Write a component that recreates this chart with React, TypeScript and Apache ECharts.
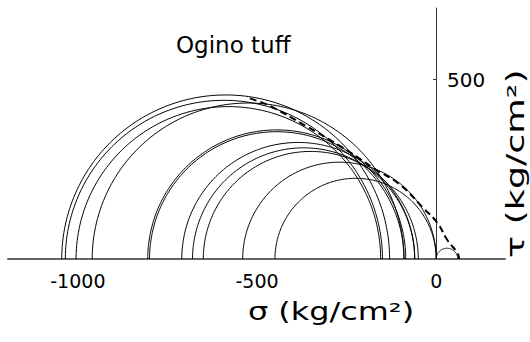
import React, { useEffect, useRef } from "react";
import * as echarts from "echarts";

// Mohr circles: left end (sigma1) and right end (sigma3), kg/cm2
const circleLeft = [-1045, -1035, -1005, -960, -805, -800, -710, -680, -650, -540, -450, 0];
const circleRight = [-130, -150, -155, -90, -85, -90, -60, -60, -50, 0, 0, 60];

// Failure envelope (dashed)
const envSigma = [-520, -500, -464, -360, -288, -221, -176, -101, -36, 3, 31, 59, 64];
const envTau = [448, 441, 427, 369, 327, 285, 254, 207, 142, 101, 53, 17, 0];

const xTicks = [-1000, -500, 0];
const yTicks = [500];

export default function App() {
  const ref = useRef<HTMLDivElement>(null);
  useEffect(() => {
    if (!ref.current) return;
    const chart = echarts.init(ref.current, null, { renderer: "svg" });
    const circles = circleLeft.map((l, i) => [l, circleRight[i]]);
    const env = envSigma.map((s, i) => [s, envTau[i]]);
    const font = "DejaVu Sans";
    chart.setOption({
      animation: false,
      backgroundColor: "#fff",
      grid: [
        { left: 8, right: 25, top: 8, bottom: 83 },
        { left: 435, right: 94, top: 8, bottom: 83 },
      ],
      xAxis: [
        {
          type: "value",
          gridIndex: 0,
          min: -1195,
          max: 192,
          splitLine: { show: false },
          axisTick: { show: false },
          axisLine: { onZero: false, lineStyle: { color: "#666", width: 2 } },
          axisLabel: {
            customValues: xTicks,
            formatter: (v: number) => String(v),
            color: "#000",
            fontFamily: font,
            fontSize: 19,
            margin: 12,
          },
        },
        { type: "value", gridIndex: 1, min: 0, max: 1, show: false },
      ],
      yAxis: [
        { type: "value", gridIndex: 0, min: 0, max: 700, show: false },
        {
          type: "value",
          gridIndex: 1,
          position: "right",
          min: 0,
          max: 700,
          splitLine: { show: false },
          axisLine: { show: true, onZero: false, lineStyle: { color: "#333", width: 1 } },
          axisTick: {
            show: true,
            inside: true,
            length: 3,
            customValues: yTicks,
            lineStyle: { color: "#333" },
          },
          axisLabel: {
            customValues: yTicks,
            formatter: (v: number) => String(v),
            color: "#000",
            fontFamily: font,
            fontSize: 20,
            margin: 11,
            padding: [12, 0, 0, 0],
          },
        },
      ],
      graphic: [
        {
          type: "text",
          left: 176,
          top: 33,
          style: { text: "Ogino tuff", font: `23px ${font}`, fill: "#000" },
        },
        {
          type: "text",
          x: 248,
          y: 300,
          scaleX: 1.33,
          style: { text: "σ (kg/cm²)", font: `24px ${font}`, fill: "#000" },
        },
        {
          type: "text",
          x: 503,
          y: 258,
          rotation: Math.PI / 2,
          scaleX: 1.52,
          style: { text: "τ (kg/cm²)", font: `24px ${font}`, fill: "#000" },
        },
      ],
      series: [
        {
          type: "custom",
          coordinateSystem: "cartesian2d",
          xAxisIndex: 0,
          yAxisIndex: 0,
          clip: false,
          encode: { x: [0, 1] },
          data: circles,
          renderItem: (params: any, api: any) => {
            const l = api.value(0);
            const r0 = api.value(1);
            const c = (l + r0) / 2;
            const r = (r0 - l) / 2;
            const pts: number[][] = [];
            for (let k = 0; k <= 180; k++) {
              const t = (k * Math.PI) / 180;
              pts.push(api.coord([c + r * Math.cos(t), r * Math.sin(t)]));
            }
            return {
              type: "polyline",
              shape: { points: pts },
              style: { stroke: "#000", fill: "none", lineWidth: 1 },
            };
          },
        },
        {
          type: "line",
          xAxisIndex: 0,
          yAxisIndex: 0,
          data: env,
          smooth: true,
          symbol: "none",
          lineStyle: { color: "#000", width: 2, type: [7, 4] },
        },
      ],
    });
    return () => chart.dispose();
  }, []);
  return <div ref={ref} style={{ width: 530, height: 342, position: "absolute", left: 0, top: 0 }} />;
}
